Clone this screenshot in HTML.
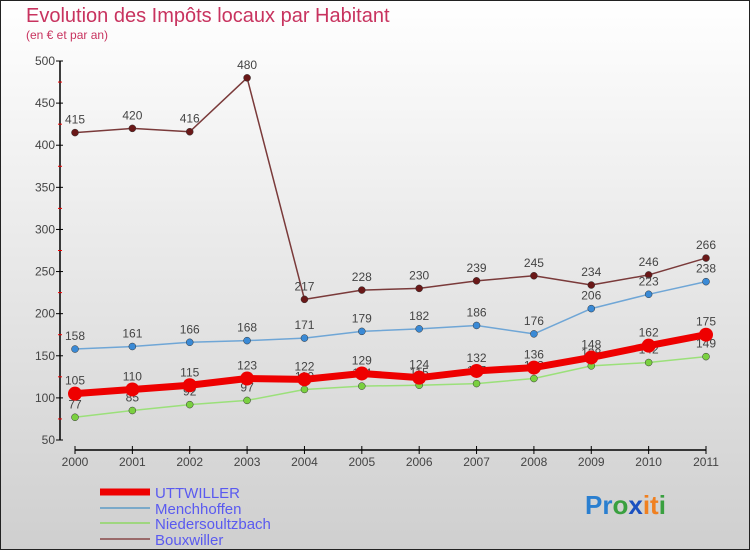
<!DOCTYPE html>
<html><head><meta charset="utf-8"><style>
body{margin:0;width:750px;height:550px;overflow:hidden;font-family:"Liberation Sans",sans-serif}
</style></head><body>
<svg id="chart" width="750" height="550" xmlns="http://www.w3.org/2000/svg" font-family="Liberation Sans, sans-serif">
<defs><linearGradient id="bg" x1="0" y1="0" x2="0" y2="1"><stop offset="0" stop-color="#ffffff"/><stop offset="1" stop-color="#cfcfcf"/></linearGradient></defs>
<rect x="0.5" y="0.5" width="749" height="549" fill="url(#bg)" stroke="#222"/>
<text x="26" y="22" font-size="20" fill="#c8335f">Evolution des Impôts locaux par Habitant</text>
<text x="26" y="39" font-size="12" fill="#c8335f">(en € et par an)</text>
<g id="axes"></g><g id="series"></g>
<g font-size="15" fill="#5a5af0">
<line x1="100" y1="492" x2="150" y2="492" stroke="#ee0000" stroke-width="7"/>
<text x="155" y="498">UTTWILLER</text>
<line x1="100" y1="508" x2="150" y2="508" stroke="#7aa9c9" stroke-width="2"/>
<text x="155" y="514">Menchhoffen</text>
<line x1="100" y1="523" x2="150" y2="523" stroke="#9fd67f" stroke-width="2"/>
<text x="155" y="529">Niedersoultzbach</text>
<line x1="100" y1="539" x2="150" y2="539" stroke="#9a6a6a" stroke-width="2"/>
<text x="155" y="545">Bouxwiller</text>
</g>
<text x="585" y="514" font-size="26" font-weight="bold"><tspan fill="#2a7fd0">Pr</tspan><tspan fill="#3aa040">o</tspan><tspan fill="#1a50c0">x</tspan><tspan fill="#f08020">it</tspan><tspan fill="#3aa040">i</tspan></text>
</svg>
<script>
const years=[2000,2001,2002,2003,2004,2005,2006,2007,2008,2009,2010,2011];
const uttwiller=[105,110,115,123,122,129,124,132,136,148,162,175];
const menchhoffen=[158,161,166,168,171,179,182,186,176,206,223,238];
const niedersoultzbach=[77,85,92,97,110,114,115,117,123,138,142,149];
const bouxwiller=[415,420,416,480,217,228,230,239,245,234,246,266];
const yTicks=[50,100,150,200,250,300,350,400,450,500];
const NS="http://www.w3.org/2000/svg";
const xs=i=>75+i*(706-75)/(years.length-1);
const ys=v=>440-(v-50)*(379/450);
function mk(t,a,p){const e=document.createElementNS(NS,t);for(const k in a)e.setAttribute(k,a[k]);p.appendChild(e);return e;}
const ax=document.getElementById('axes');
let l=mk('line',{x1:60,y1:ys(500),x2:60,y2:ys(50),stroke:'#000','stroke-width':1.5},ax);


l=mk('line',{x1:xs(0),y1:450,x2:xs(11),y2:450,stroke:'#000','stroke-width':1.5},ax);


yTicks.forEach(v=>{mk('line',{x1:56,y1:ys(v),x2:63,y2:ys(v),stroke:'#000'},ax);
 if(v<500)mk('line',{x1:58,y1:ys(v+25),x2:62,y2:ys(v+25),stroke:'#e00'},ax);
 const t=mk('text',{x:55,y:ys(v)+4,'text-anchor':'end','font-size':12,fill:'#444'},ax);t.textContent=v;
 
 });
years.forEach((y,i)=>{mk('line',{x1:xs(i),y1:446,x2:xs(i),y2:454,stroke:'#000'},ax);
 const t=mk('text',{x:xs(i),y:466,'text-anchor':'middle','font-size':12,fill:'#444'},ax);t.textContent=y;
 
 });
const sg=document.getElementById('series');
function draw(name,data,color,w,r,dot){
 const g=mk('g',{},sg);
 
 
 mk('polyline',{points:data.map((v,i)=>xs(i)+','+ys(v)).join(' '),fill:'none',stroke:color,'stroke-width':w,'stroke-linejoin':'round'},g);
 data.forEach((v,i)=>{const c=mk('circle',{cx:xs(i),cy:ys(v),r:r,fill:dot,stroke:'#333','stroke-width':r>5?0:0.5},g);
  
  
  const t=mk('text',{x:xs(i),y:ys(v)-9,'text-anchor':'middle','font-size':12,fill:'#444'},g);t.textContent=v;
  
  });
}
draw('bouxwiller',bouxwiller,'#7a3a3a',1.5,3.5,'#6a1818');
draw('menchhoffen',menchhoffen,'#6fa6d6',1.5,3.5,'#3a8ad6');
draw('niedersoultzbach',niedersoultzbach,'#9be07a',1.5,3.5,'#7ad040');
draw('uttwiller',uttwiller,'#ee0000',7,7,'#ee0000');
</script>
</body></html>
